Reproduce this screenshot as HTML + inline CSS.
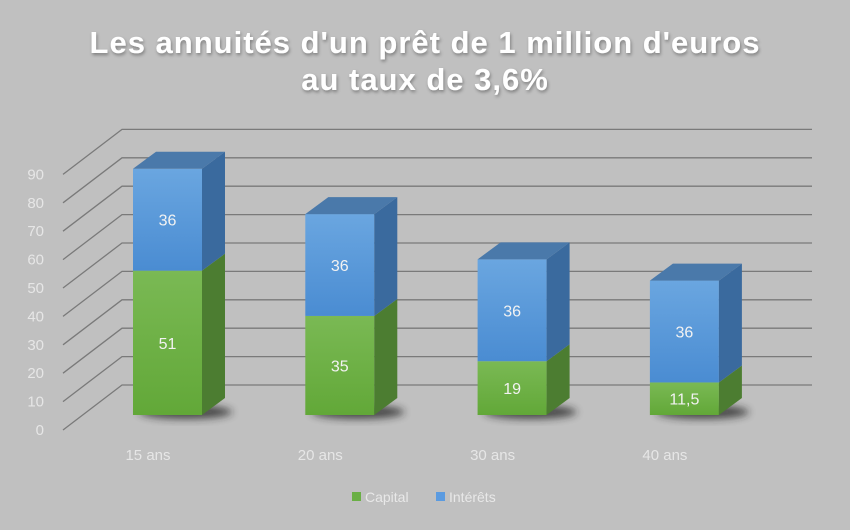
<!DOCTYPE html>
<html><head><meta charset="utf-8"><style>
body{margin:0;background:#c0c0c0;}
svg{display:block;font-family:"Liberation Sans",sans-serif;}
</style></head><body>
<svg id="chart" width="850" height="530" viewBox="0 0 850 530">
<defs>
<linearGradient id="gG" x1="0" y1="0" x2="0" y2="1"><stop offset="0" stop-color="#7ab954"/><stop offset="1" stop-color="#62a838"/></linearGradient>
<linearGradient id="gB" x1="0" y1="0" x2="0" y2="1"><stop offset="0" stop-color="#6aa6e0"/><stop offset="1" stop-color="#4a8cd2"/></linearGradient>
<filter id="bl" x="-50%" y="-50%" width="200%" height="200%"><feGaussianBlur stdDeviation="4"/></filter>
<filter id="ts"><feDropShadow dx="1" dy="2" stdDeviation="1.5" flood-color="#000" flood-opacity="0.35"/></filter>
</defs>
<rect width="850" height="530" fill="#c0c0c0"/>
<g filter="url(#ts)">
<text x="425" y="53" text-anchor="middle" font-size="31" font-weight="bold" fill="#fff" letter-spacing="1">Les annuités d'un prêt de 1 million d'euros</text>
<text x="425" y="90" text-anchor="middle" font-size="31" font-weight="bold" fill="#fff" letter-spacing="1">au taux de 3,6%</text>
</g>
<g id="grid"></g>
<g id="bars"></g>
<g id="xlabels"></g>
<g>
<rect x="352" y="492" width="9" height="9" fill="#6aaf45"/>
<text x="365" y="502" font-size="14" fill="#e8e8e8">Capital</text>
<rect x="436" y="492" width="9" height="9" fill="#5b9be0"/>
<text x="449" y="502" font-size="14" fill="#e8e8e8">Intérêts</text>
</g>
</svg>
<script>
const categories=["15 ans","20 ans","30 ans","40 ans"];
const capital=[51,35,19,11.5];
const interets=[36,36,36,36];
const capitalLabels=["51","35","19","11,5"];
const interetsLabels=["36","36","36","36"];
const yTicks=[0,10,20,30,40,50,60,70,80,90];
const NS="http://www.w3.org/2000/svg";
function mk(t,a,p){const e=document.createElementNS(NS,t);for(const k in a)e.setAttribute(k,a[k]);p.appendChild(e);return e;}
const K=2.84;
function yFront(v){return 430-v*K;}
function yBack(v){return 385-v*K;}
function yBar(v){return 415-v*2.83;}
function xBar(i){return 133+i*172.3;}
const grid=document.getElementById('grid');
yTicks.forEach(v=>{
  const l=mk('polyline',{points:`63,${yFront(v)} 122,${yBack(v)} 812,${yBack(v)}`,fill:'none',stroke:'#7a7a7a','stroke-width':1.3},grid);
  
  
  const t=mk('text',{x:44,y:yFront(v)+5,'text-anchor':'end','font-size':15,fill:'#e6e6e6'},grid);
  t.textContent=v;
  
  
});
const bars=document.getElementById('bars');
const W=69,DX=23,DY=17;
function box(x,y0,y1,front,side,top,name){
  const g=mk('g',{},bars);
  
  
  mk('rect',{x:x,y:y1,width:W,height:y0-y1,fill:front},g);
  mk('polygon',{points:`${x+W},${y0} ${x+W+DX},${y0-DY} ${x+W+DX},${y1-DY} ${x+W},${y1}`,fill:side},g);
  if(top)mk('polygon',{points:`${x},${y1} ${x+DX},${y1-DY} ${x+W+DX},${y1-DY} ${x+W},${y1}`,fill:top},g);
  return g;
}
categories.forEach((c,i)=>{
  const x=xBar(i);
  const sh=mk('ellipse',{cx:x+W/2+18,cy:yBar(0)-3,rx:W/2+12,ry:7,fill:'#222',opacity:0.75,filter:'url(#bl)'},bars);
  
  
  const c0=yBar(0),c1=yBar(capital[i]),t1=yBar(capital[i]+interets[i]);
  box(x,c0,c1,'url(#gG)','#4c7d31',null,'bar-capital-'+i);
  box(x,c1,t1,'url(#gB)','#3a6a9e','#4a79aa','bar-interets-'+i);
  const a=mk('text',{x:x+W/2,y:(c0+c1)/2+6,'text-anchor':'middle','font-size':16,fill:'#f2f2f2'},bars);
  a.textContent=capitalLabels[i];
  
  
  const b=mk('text',{x:x+W/2,y:(c1+t1)/2+6,'text-anchor':'middle','font-size':16,fill:'#f2f2f2'},bars);
  b.textContent=interetsLabels[i];
  
  
  const xl=mk('text',{x:x+15,y:460,'text-anchor':'middle','font-size':15,fill:'#e6e6e6'},document.getElementById('xlabels'));
  xl.textContent=c;
  
  
});
</script>
</body></html>
